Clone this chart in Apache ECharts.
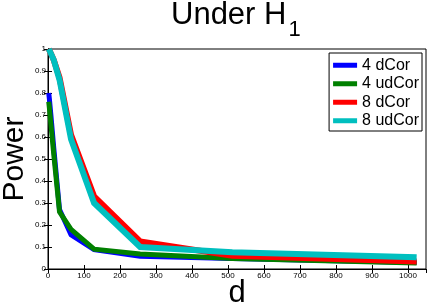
<!DOCTYPE html>
<html>
<head>
<meta charset="utf-8">
<script src="https://cdn.jsdelivr.net/npm/echarts@6/dist/echarts.min.js"></script>
<style>html,body{margin:0;padding:0;background:#fff}#c{width:428px;height:306px}</style>
</head>
<body>
<div id="c"></div>
<script>
var dims = [2, 4, 8, 16, 32, 64, 128, 256, 512, 1024];
var seriesNames = ['4 dCor', '4 udCor', '8 dCor', '8 udCor'];
var dCor4 = [0.80, 0.77, 0.70, 0.55, 0.27, 0.155, 0.088, 0.058, 0.048, 0.030];
var udCor4 = [0.76, 0.73, 0.66, 0.52, 0.26, 0.18, 0.09, 0.068, 0.048, 0.027];
var dCor8 = [1.0, 0.995, 0.98, 0.95, 0.87, 0.61, 0.33, 0.125, 0.060, 0.034];
var udCor8 = [1.0, 0.995, 0.98, 0.95, 0.86, 0.59, 0.30, 0.10, 0.076, 0.053];
var colors = ['#0000ff', '#008000', '#ff0000', '#00bfbf'];
var widths = [5, 5, 6, 6];
var allValues = [dCor4, udCor4, dCor8, udCor8];

var FONT = 'Liberation Sans';
function pairs(v) { return dims.map(function (d, i) { return [d, v[i]]; }); }

var chart = echarts.init(document.getElementById('c'), null, { renderer: 'canvas' });
var tickCommon = { show: true, inside: true, length: 4, lineStyle: { color: '#000', width: 1 } };
var option = {
  animation: false,
  backgroundColor: '#fff',
  title: {
    text: '{a|Under H}{b|1}',
    left: 171, top: 0, padding: 0,
    textStyle: {
      fontWeight: 'normal',
      rich: {
        a: { fontFamily: FONT, fontSize: 31, lineHeight: 31, fontWeight: 'normal', color: '#000', verticalAlign: 'top' },
        b: { fontFamily: FONT, fontSize: 22, lineHeight: 22, fontWeight: 'normal', color: '#000', verticalAlign: 'top', padding: [19, 0, 0, 2] }
      }
    }
  },
  grid: { left: 48, right: 2, top: 49, bottom: 37, show: true, borderColor: '#000', borderWidth: 1, containLabel: false, outerBoundsMode: 'none' },
  legend: {
    orient: 'vertical', right: 6, top: 53,
    data: seriesNames,
    backgroundColor: '#fff', borderColor: '#000', borderWidth: 1,
    padding: [3, 3, 1, 4],
    itemWidth: 24, itemHeight: 5, itemGap: 0,
    icon: 'rect',
    textStyle: { fontFamily: FONT, fontSize: 16, lineHeight: 18.5, color: '#000' }
  },
  xAxis: [{
    type: 'value', min: 0, max: 1050, interval: 100,
    name: 'd', nameLocation: 'middle', nameGap: 9, nameMoveOverlap: false,
    nameTextStyle: { fontFamily: FONT, fontSize: 31, lineHeight: 31, color: '#000' },
    axisLine: { show: true, lineStyle: { color: '#000' } },
    axisTick: tickCommon,
    splitLine: { show: false },
    axisLabel: { fontFamily: FONT, fontSize: 8, color: '#000', margin: 3, showMaxLabel: false,
      formatter: function (v) { return String(v); } }
  }, {
    type: 'value', min: 0, max: 1050, interval: 100, position: 'top',
    axisLine: { show: true, lineStyle: { color: '#000' } },
    axisTick: tickCommon, splitLine: { show: false }, axisLabel: { show: false }
  }],
  yAxis: [{
    type: 'value', min: 0, max: 1, interval: 0.1,
    name: 'Power', nameLocation: 'middle', nameGap: 18, nameRotate: 90, nameMoveOverlap: false,
    nameTextStyle: { fontFamily: FONT, fontSize: 30, lineHeight: 30, color: '#000' },
    axisLine: { show: true, lineStyle: { color: '#000' } },
    axisTick: tickCommon,
    splitLine: { show: false },
    axisLabel: { fontFamily: FONT, fontSize: 8, color: '#000', margin: 2 }
  }, {
    type: 'value', min: 0, max: 1, interval: 0.1, position: 'right',
    axisLine: { show: true, lineStyle: { color: '#000' } },
    axisTick: tickCommon, splitLine: { show: false }, axisLabel: { show: false }
  }],
  series: seriesNames.map(function (n, i) {
    return {
      name: n, type: 'line', data: pairs(allValues[i]),
      xAxisIndex: 0, yAxisIndex: 0,
      showSymbol: false, symbol: 'none',
      lineStyle: { color: colors[i], width: widths[i], join: 'miter' },
      itemStyle: { color: colors[i] },
      z: 2 + i
    };
  })
};
chart.setOption(option);
</script>
</body>
</html>
